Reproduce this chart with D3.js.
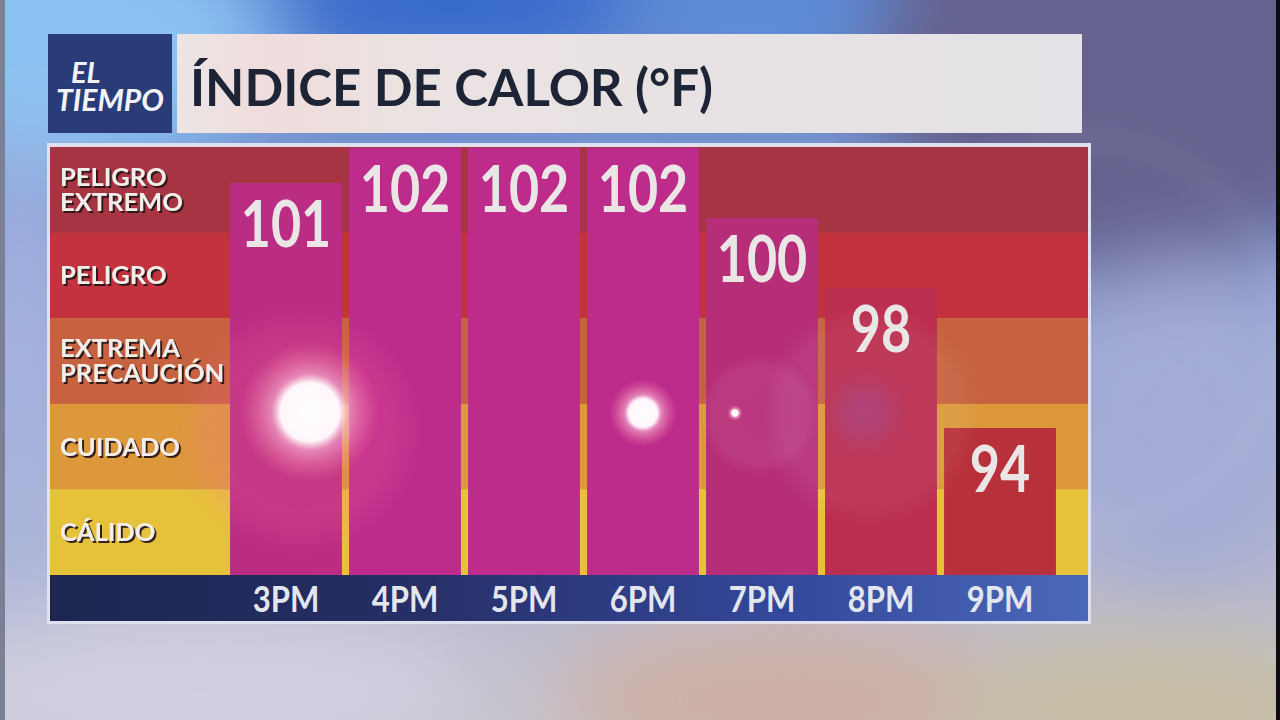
<!DOCTYPE html>
<html>
<head>
<meta charset="utf-8">
<script src="https://cdn.jsdelivr.net/npm/d3@7"></script>
<style>
  html, body { margin: 0; padding: 0; background: #000; }
  svg { display: block; }
</style>
</head>
<body>
<div id="chart"></div>
<script>
// data
var hours = ["3PM", "4PM", "5PM", "6PM", "7PM", "8PM", "9PM"];
var heatIndex = [101, 102, 102, 102, 100, 98, 94];
var levels = ["PELIGRO EXTREMO", "PELIGRO", "EXTREMA PRECAUCIÓN", "CUIDADO", "CÁLIDO"];
var levelLines = [["PELIGRO", "EXTREMO"], ["PELIGRO"], ["EXTREMA", "PRECAUCIÓN"], ["CUIDADO"], ["CÁLIDO"]];
var title = "ÍNDICE DE CALOR (°F)";

// styles
var levelColors = ["#a63443", "#c3333f", "#c6623f", "#dc983b", "#e6c23a"];
var barStops = [94, 98, 100, 102];
var barColors = ["#b8303a", "#bb2e4f", "#b62e78", "#bd2b8b"];

var W = 1280, H = 720;
var font = "Lato, 'Open Sans', sans-serif";

var svg = d3.select("#chart").append("svg")
	.attr("width", W).attr("height", H);

var defs = svg.append("defs");

// ---- background ----
var bg = defs.append("linearGradient").attr("id", "bg")
	.attr("x1", 0).attr("y1", 0).attr("x2", 0).attr("y2", 1);
bg.append("stop").attr("offset", 0).attr("stop-color", "#5b86cf");
bg.append("stop").attr("offset", 0.45).attr("stop-color", "#98a3d2");
bg.append("stop").attr("offset", 1).attr("stop-color", "#c7c3cc");

defs.append("filter").attr("id", "blurBig")
	.attr("x", "-50%").attr("y", "-50%").attr("width", "200%").attr("height", "200%")
	.append("feGaussianBlur").attr("stdDeviation", 40);
defs.append("filter").attr("id", "blurMid")
	.attr("x", "-50%").attr("y", "-50%").attr("width", "200%").attr("height", "200%")
	.append("feGaussianBlur").attr("stdDeviation", 12);

var shadow = defs.append("filter").attr("id", "shadow")
	.attr("x", "-10%").attr("y", "-20%").attr("width", "130%").attr("height", "160%");
shadow.append("feDropShadow").attr("dx", 2).attr("dy", 2).attr("stdDeviation", 0.7)
	.attr("flood-color", "#2a1416").attr("flood-opacity", 0.95);

svg.append("rect").attr("width", W).attr("height", H).attr("fill", "url(#bg)");

var blobs = [
	{ cx: 60, cy: 40, rx: 220, ry: 130, c: "#8cc2f2" },
	{ cx: 450, cy: 5, rx: 200, ry: 45, c: "#2e62cc" },
	{ cx: 760, cy: 10, rx: 140, ry: 40, c: "#5f8fdc" },
	{ cx: 1130, cy: 60, rx: 260, ry: 220, c: "#65628f" },
	{ cx: 1180, cy: 420, rx: 120, ry: 160, c: "#a3abd6" },
	{ cx: 20, cy: 380, rx: 40, ry: 260, c: "#a7b6e2" },
	{ cx: 200, cy: 690, rx: 280, ry: 80, c: "#cfcfe0" },
	{ cx: 790, cy: 700, rx: 230, ry: 80, c: "#cdb0a6" },
	{ cx: 1150, cy: 710, rx: 200, ry: 80, c: "#c6bea4" }
];
svg.append("g").attr("filter", "url(#blurBig)")
	.selectAll("ellipse").data(blobs).enter().append("ellipse")
	.attr("cx", function(d) { return d.cx; })
	.attr("cy", function(d) { return d.cy; })
	.attr("rx", function(d) { return d.rx; })
	.attr("ry", function(d) { return d.ry; })
	.attr("fill", function(d) { return d.c; });

// faint lens rings in the background
svg.append("circle").attr("cx", 1090).attr("cy", 330).attr("r", 190)
	.attr("fill", "none").attr("stroke", "#ffffff").attr("stroke-opacity", 0.08)
	.attr("stroke-width", 14).attr("filter", "url(#blurMid)");

// side strips
svg.append("rect").attr("x", 0).attr("y", 0).attr("width", 5).attr("height", H)
	.attr("fill", "#7c8094");
svg.append("rect").attr("x", 1276).attr("y", 0).attr("width", 4).attr("height", H)
	.attr("fill", "#0c0c10");

// ---- header ----
svg.append("rect").attr("x", 48).attr("y", 34).attr("width", 124).attr("height", 99)
	.attr("fill", "#2a3c78");
svg.append("text").attr("x", 71).attr("y", 83).text("EL")
	.attr("font-family", font).attr("font-weight", 700).attr("font-style", "italic")
	.attr("font-size", "29px").attr("fill", "#f2f3f8");
svg.append("text").attr("x", 110).attr("y", 111).text("TIEMPO")
	.attr("text-anchor", "middle")
	.attr("font-family", font).attr("font-weight", 700).attr("font-style", "italic")
	.attr("font-size", "31px").attr("fill", "#f2f3f8")
	.call(squeeze, 0.97);

var tg = defs.append("linearGradient").attr("id", "titleBg")
	.attr("x1", 0).attr("y1", 0).attr("x2", 1).attr("y2", 0);
tg.append("stop").attr("offset", 0).attr("stop-color", "#ece4e5");
tg.append("stop").attr("offset", 0.1).attr("stop-color", "#f0dcdc");
tg.append("stop").attr("offset", 0.25).attr("stop-color", "#ebe2e2");
tg.append("stop").attr("offset", 1).attr("stop-color", "#e4e2e6");
svg.append("rect").attr("x", 177).attr("y", 34).attr("width", 905).attr("height", 99)
	.attr("fill", "url(#titleBg)");
svg.append("text").attr("x", 190).attr("y", 106).text(title)
	.attr("font-family", font).attr("font-weight", 700)
	.attr("font-size", "51px").attr("fill", "#1d2435");

// ---- chart panel ----
var chartLeft = 50, chartRight = 1088, chartTop = 147, chartBottom = 575, axisBottom = 621;

svg.append("rect").attr("x", chartLeft - 3).attr("y", chartTop - 4)
	.attr("width", chartRight - chartLeft + 6).attr("height", axisBottom - chartTop + 7)
	.attr("fill", "#dfe2ee");

var y = d3.scaleLinear().domain([89.8, 102]).range([chartBottom, 148]);
var band = d3.scaleBand().domain(levels).range([chartTop, chartBottom]);
var x = d3.scaleBand().domain(hours).range([226.5, 1059.5])
	.paddingInner(0.06).paddingOuter(0.03);
var barColor = d3.scaleLinear().domain(barStops).range(barColors);
var levelColor = d3.scaleOrdinal().domain(levels).range(levelColors);

svg.append("g").selectAll("rect").data(levels).enter().append("rect")
	.attr("x", chartLeft).attr("y", function(d) { return band(d); })
	.attr("width", chartRight - chartLeft).attr("height", band.bandwidth() + 0.5)
	.attr("fill", function(d) { return levelColor(d); });

// bars
var data = hours.map(function(h, i) { return { hour: h, value: heatIndex[i] }; });
svg.append("g").selectAll("rect").data(data).enter().append("rect")
	.attr("x", function(d) { return x(d.hour); })
	.attr("y", function(d) { return y(d.value); })
	.attr("width", x.bandwidth())
	.attr("height", function(d) { return chartBottom - y(d.value); })
	.attr("fill", function(d) { return barColor(d.value); });

// lens flare glow over the bars
var glow = defs.append("radialGradient").attr("id", "glow");
glow.append("stop").attr("offset", 0).attr("stop-color", "#ffffff").attr("stop-opacity", 1);
glow.append("stop").attr("offset", 0.42).attr("stop-color", "#fff6fb").attr("stop-opacity", 1);
glow.append("stop").attr("offset", 0.55).attr("stop-color", "#ffc6dc").attr("stop-opacity", 0.55);
glow.append("stop").attr("offset", 1).attr("stop-color", "#ff8aa8").attr("stop-opacity", 0);
var halo = defs.append("radialGradient").attr("id", "halo");
halo.append("stop").attr("offset", 0).attr("stop-color", "#ffffff").attr("stop-opacity", 0.04);
halo.append("stop").attr("offset", 0.8).attr("stop-color", "#ffffff").attr("stop-opacity", 0.06);
halo.append("stop").attr("offset", 1).attr("stop-color", "#ffffff").attr("stop-opacity", 0);

var flares = svg.append("g");
flares.append("circle").attr("cx", 870).attr("cy", 415).attr("r", 110).attr("fill", "url(#halo)");
flares.append("circle").attr("cx", 760).attr("cy", 415).attr("r", 60).attr("fill", "url(#halo)");
flares.append("circle").attr("cx", 300).attr("cy", 430).attr("r", 110).attr("fill", "#ff6a9a").attr("opacity", 0.18)
	.attr("filter", "url(#blurMid)");
flares.append("circle").attr("cx", 310).attr("cy", 412).attr("r", 70).attr("fill", "url(#glow)");
flares.append("circle").attr("cx", 643).attr("cy", 413).attr("r", 34).attr("fill", "url(#glow)");
flares.append("circle").attr("cx", 735).attr("cy", 413).attr("r", 8).attr("fill", "url(#glow)");
flares.append("circle").attr("cx", 865).attr("cy", 413).attr("r", 30).attr("fill", "#8a6adc").attr("opacity", 0.25)
	.attr("filter", "url(#blurMid)");

// value labels
svg.append("g").selectAll("text").data(data).enter().append("text")
	.attr("x", function(d) { return x(d.hour) + x.bandwidth() / 2; })
	.attr("y", function(d) { return y(d.value) + 64; })
	.attr("text-anchor", "middle")
	.attr("font-family", font).attr("font-weight", 700).attr("font-size", "65px")
	.attr("fill", "#ebe6e6")
	.text(function(d) { return d.value; })
	.call(squeeze, 0.8);

// level labels
var labels = svg.append("g").attr("filter", "url(#shadow)");
levels.forEach(function(lv, i) {
	var lines = levelLines[i];
	var mid = band(lv) + band.bandwidth() / 2;
	var lh = 25;
	lines.forEach(function(line, j) {
		labels.append("text")
			.attr("x", 60)
			.attr("y", mid + 9 + (j - (lines.length - 1) / 2) * lh)
			.attr("font-family", font).attr("font-weight", 700).attr("font-size", "25px")
			.attr("fill", "#f3eeea")
			.text(line)
			.call(squeeze, 1.02);
	});
});

// axis strip
var ag = defs.append("linearGradient").attr("id", "axisBg")
	.attr("x1", 0).attr("y1", 0).attr("x2", 1).attr("y2", 0);
ag.append("stop").attr("offset", 0).attr("stop-color", "#1d2550");
ag.append("stop").attr("offset", 0.35).attr("stop-color", "#262f66");
ag.append("stop").attr("offset", 0.7).attr("stop-color", "#34479a");
ag.append("stop").attr("offset", 1).attr("stop-color", "#4b69b9");
svg.append("rect").attr("x", chartLeft).attr("y", chartBottom)
	.attr("width", chartRight - chartLeft).attr("height", axisBottom - chartBottom)
	.attr("fill", "url(#axisBg)");

var axis = d3.axisBottom(x).tickSize(0).tickPadding(0);
var axisG = svg.append("g").attr("transform", "translate(0," + chartBottom + ")").call(axis);
axisG.select(".domain").remove();
axisG.selectAll("text")
	.attr("x", 0).attr("y", 37).attr("dy", 0)
	.attr("font-family", font).attr("font-weight", 700).attr("font-size", "37px")
	.attr("fill", "#e4e6ee")
	.attr("transform", "scale(0.84,1)");

// horizontally condense text around its anchor point
function squeeze(sel, k) {
	sel.attr("transform", function() {
		var px = +this.getAttribute("x"), py = +this.getAttribute("y");
		return "translate(" + px + "," + py + ") scale(" + k + ",1) translate(" + (-px) + "," + (-py) + ")";
	});
}
</script>
</body>
</html>
